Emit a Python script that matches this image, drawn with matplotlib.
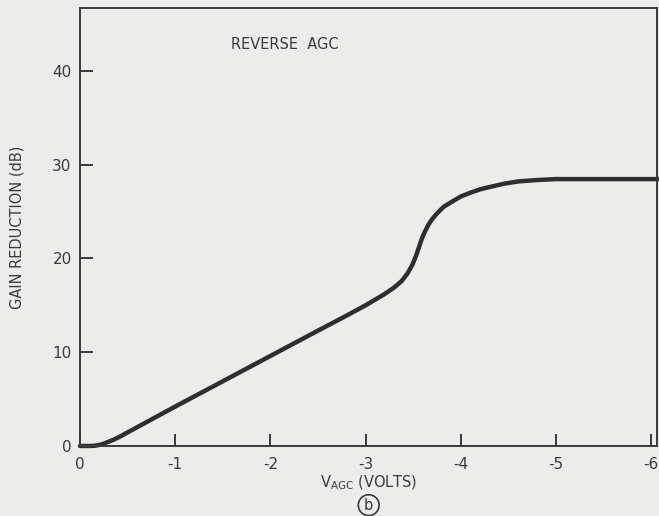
import matplotlib
matplotlib.use('Agg')
import matplotlib.pyplot as plt

# data
v_agc = [0, -0.1, -0.15, -0.2, -0.25, -0.3, -0.36, -0.42, -0.5, -0.6, -0.8, -1.0,
         -1.5, -2.0, -2.5, -2.8, -3.0, -3.1, -3.2, -3.3, -3.38, -3.44, -3.49,
         -3.53, -3.56, -3.59, -3.62, -3.66, -3.7, -3.75, -3.82, -3.9, -4.0,
         -4.1, -4.2, -4.3, -4.45, -4.6, -4.8, -5.0, -5.5, -6.1]
gain_red = [0, 0, 0.02, 0.1, 0.25, 0.45, 0.7, 1.0, 1.45, 2.0, 3.1, 4.2,
            6.9, 9.6, 12.3, 13.9, 15.0, 15.6, 16.2, 16.9, 17.6, 18.4, 19.3,
            20.3, 21.2, 22.1, 22.8, 23.6, 24.2, 24.8, 25.5, 26.0, 26.6,
            27.0, 27.35, 27.6, 27.95, 28.2, 28.35, 28.45, 28.45, 28.45]
x_ticks = [0, -1, -2, -3, -4, -5, -6]
y_ticks = [0, 10, 20, 30, 40]

bg = '#ececea'
ink = '#3a3a3a'

fig = plt.figure(figsize=(6.59, 5.16), dpi=100, facecolor=bg)
ax = fig.add_axes([0.1214, 0.1357, 0.8756, 0.849])
ax.set_facecolor(bg)

ax.plot(v_agc, gain_red, color='#2e2e2e', linewidth=3.2,
        solid_joinstyle='round', solid_capstyle='round', clip_on=False)

ax.set_xlim(0, -6.06)
ax.set_ylim(0, 46.7)
ax.set_xticks(x_ticks)
ax.set_xticklabels(['0' if t == 0 else '-%d' % -t for t in x_ticks])
ax.set_yticks(y_ticks)

for s in ax.spines.values():
    s.set_color(ink)
    s.set_linewidth(1.4)

ax.tick_params(direction='in', length=9, width=1.4, color=ink,
               labelsize=11, labelcolor=ink)
ax.tick_params(axis='x', pad=8)
ax.tick_params(axis='y', pad=6)

ax.set_xlabel(r'$\mathregular{V_{AGC}}$ (VOLTS)', fontsize=10.5, color=ink, labelpad=1)
ax.set_ylabel('GAIN REDUCTION (dB)', fontsize=10.5, color=ink, labelpad=20)

ax.text(-2.15, 42.8, 'REVERSE  AGC', fontsize=10.5, color=ink,
        ha='center', va='center')

fig.text(0.5595, 0.021, 'b', fontsize=10.5, color=ink, ha='center', va='center',
         bbox=dict(boxstyle='circle,pad=0.2', fc='none', ec=ink, lw=1.2))

plt.savefig('out.png', dpi=100, facecolor=bg)
plt.close()
